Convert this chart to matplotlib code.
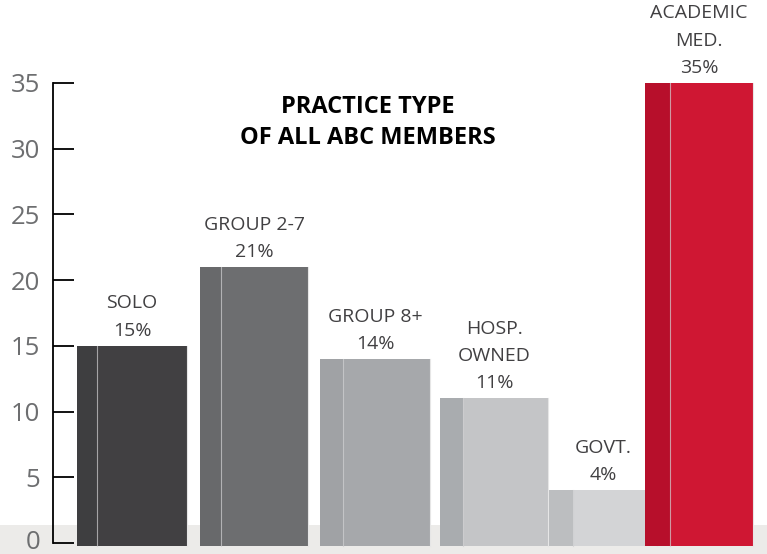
import numpy as np
import matplotlib.pyplot as plt
from matplotlib.transforms import offset_copy

categories = ['SOLO', 'GROUP 2-7', 'GROUP 8+', 'HOSP.\nOWNED', 'GOVT.', 'ACADEMIC\nMED.']
values = [15, 21, 14, 11, 4, 35]
yticks = [0, 5, 10, 15, 20, 25, 30, 35]

front_colors = ['#414042', '#6d6e70', '#a6a8ab', '#c4c5c7', '#d3d4d6', '#cf1733']
side_colors = ['#3e3e40', '#68696b', '#a0a2a5', '#a9acaf', '#bcbec0', '#b70f2b']

# layout (pixel-ish x units)
bar_left = [77, 200, 320, 440, 549, 645]
bar_width = [110, 108, 110, 108, 108, 108]
side_width = [20, 21, 23, 23, 24, 25]
base = -0.23

plt.rcParams['font.family'] = ['Open Sans', 'DejaVu Sans']

fig = plt.figure(figsize=(7.67, 5.54), dpi=100)
ax = fig.add_axes([53 / 767, 0, 714 / 767, 1])
ax.set_xlim(53, 767)
ax.set_ylim(-0.837, 41.31)
ax.patch.set_alpha(0)

# gray floor band, full figure width
ax.axhspan(-0.837, 1.37, xmin=-53 / 714, xmax=1, color='#ecebe9', zorder=0,
           clip_on=False, lw=0)

for i, v in enumerate(values):
    x0 = bar_left[i]
    sw = side_width[i]
    fw = bar_width[i] - sw
    ax.bar(x0, v - base, bottom=base, width=sw, align='edge',
           color=side_colors[i], zorder=2 + i)
    ax.bar(x0 + sw, v - base, bottom=base, width=fw, align='edge',
           color=front_colors[i], zorder=2 + i)
    ax.plot([x0 + sw, x0 + sw], [base, v], color='#d0d0d2', lw=0.8, zorder=2 + i, alpha=0.7)
    ax.plot([x0 + bar_width[i], x0 + bar_width[i]], [base, v], color='#e6e6e6', lw=0.8, zorder=2 + i)
    ax.annotate(f'{categories[i]}\n{v}%', (x0 + bar_width[i] / 2, v),
                xytext=(0, 4.5), textcoords='offset points', ha='center', va='bottom',
                fontsize=14, color='#414042', linespacing=1.65)

ax.text(368, 32.0, 'PRACTICE TYPE\nOF ALL ABC MEMBERS', ha='center', va='center',
        fontsize=17, fontweight='bold', color='#000000', linespacing=1.4)

for s in ['top', 'right', 'bottom']:
    ax.spines[s].set_visible(False)
ax.spines['left'].set_bounds(0, 35)
ax.spines['left'].set_linewidth(1.3)
ax.spines['left'].set_zorder(1)
ax.set_yticks(yticks)
ax.set_xticks([])
ax.tick_params(axis='y', direction='in', length=15, width=1.3, pad=9,
               labelsize=18.5, labelcolor='#6d6e70')

# nudge the "0" label up a little so it stays inside the picture
fig.canvas.draw()
lab0 = ax.get_yticklabels()[0]
lab0.set_transform(offset_copy(lab0.get_transform(), fig=fig, x=0, y=2.5, units='points'))

fig.savefig('out.png', dpi=100)
